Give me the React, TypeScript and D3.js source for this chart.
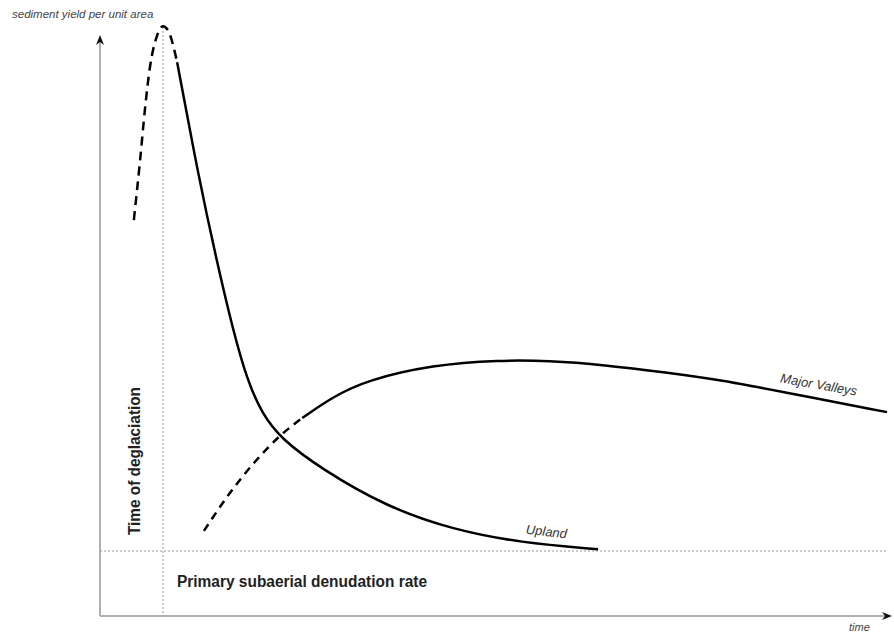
import React from "react"
import * as d3 from "d3"

// time (0-100) vs sediment yield (0-100)
const uplandRise: [number, number][] = [
  [4.3, 67.0], [5.1, 77.2], [5.7, 85.6], [6.35, 92.9], [7.2, 98.0], [8.0, 99.8], [8.6, 99.2], [9.8, 93.7],
]
const uplandFall: [number, number][] = [
  [9.8, 93.7], [12.6, 73.8], [14.9, 59.7], [16.9, 48.4], [18.7, 39.9], [20.6, 34.2], [23.0, 30.0],
  [28.0, 25.0], [36.5, 18.4], [44.9, 14.6], [53.4, 12.4], [63.3, 11.3],
]
const valleysRise: [number, number][] = [
  [13.2, 14.4], [16.5, 20.8], [19.7, 26.1], [22.9, 30.5], [25.7, 33.5],
]
const valleysMain: [number, number][] = [
  [25.7, 33.5], [29.6, 37.1], [33.9, 39.9], [42.3, 42.5], [50.8, 43.3], [57.0, 43.2],
  [64.0, 42.5], [72.0, 41.2], [79.0, 39.9], [86.4, 38.0], [100, 34.5],
]
const deglaciationTime = 8
const denudationRate = 11

const W = 894
const H = 633

const x = d3.scaleLinear().domain([0, 100]).range([100, 887])
const y = d3.scaleLinear().domain([0, 100]).range([616, 25])

const riseLine = d3.line<[number, number]>()
  .x(d => x(d[0]))
  .y(d => y(d[1]))
  .curve(d3.curveMonotoneX)

const smoothLine = d3.line<[number, number]>()
  .x(d => x(d[0]))
  .y(d => y(d[1]))
  .curve(d3.curveBasis)

const App: React.FC = () => {
  const x0 = x(0)
  const y0 = y(0)
  const axisTop = 35
  const axisRight = 892

  return (
    <svg width={W} height={H} style={{ position: "absolute", left: 0, top: 0 }}
      fontFamily="'Liberation Sans', Arial, sans-serif">
      <rect width={W} height={H} fill="#fff" />

      {/* axes */}
      <line x1={x0} y1={y0} x2={x0} y2={axisTop + 6} stroke="#b0b0b0" strokeWidth={2} />
      <line x1={x0} y1={y0} x2={axisRight - 6} y2={y0} stroke="#b0b0b0" strokeWidth={2} />
      <path d={`M${x0},${axisTop} L${x0 - 4},${axisTop + 10} L${x0},${axisTop + 7} L${x0 + 4},${axisTop + 10} Z`} fill="#111" />
      <path d={`M${axisRight},${y0} L${axisRight - 10},${y0 - 4} L${axisRight - 7},${y0} L${axisRight - 10},${y0 + 4} Z`} fill="#111" />

      {/* reference lines */}
      <line x1={x(deglaciationTime)} y1={27} x2={x(deglaciationTime)} y2={y0}
        stroke="#999" strokeWidth={1} strokeDasharray="2,2" />
      <line x1={x0} y1={y(denudationRate)} x2={x(100)} y2={y(denudationRate)}
        stroke="#999" strokeWidth={1} strokeDasharray="2,2" />

      {/* curves */}
      <path d={riseLine(uplandRise) || ""} fill="none" stroke="#000" strokeWidth={2.5} strokeDasharray="9,6" />
      <path d={smoothLine(uplandFall) || ""} fill="none" stroke="#000" strokeWidth={2.5} />
      <path d={riseLine(valleysRise) || ""} fill="none" stroke="#000" strokeWidth={2.5} strokeDasharray="8,6" />
      <path d={smoothLine(valleysMain) || ""} fill="none" stroke="#000" strokeWidth={2.5} />

      {/* labels */}
      <text x={12} y={18} fontSize={11.5} fontStyle="italic" fill="#444">sediment yield per unit area</text>
      <text x={849} y={631} fontSize={11} fontStyle="italic" fill="#444">time</text>
      <text x={546} y={536} fontSize={13} fontStyle="italic" fill="#333" textAnchor="middle"
        transform="rotate(6,546,536)">Upland</text>
      <text x={818} y={389} fontSize={13} fontStyle="italic" fill="#333" textAnchor="middle"
        transform="rotate(10,818,389)">Major Valleys</text>
      <text x={177} y={587} fontSize={16} fontWeight="bold" fill="#222"
        textLength={250} lengthAdjust="spacingAndGlyphs">Primary subaerial denudation rate</text>
      <text x={0} y={0} fontSize={16} fontWeight="bold" fill="#222" textAnchor="middle"
        textLength={148} lengthAdjust="spacingAndGlyphs"
        transform="translate(140,461) rotate(-90)">Time of deglaciation</text>
    </svg>
  )
}

export default App
